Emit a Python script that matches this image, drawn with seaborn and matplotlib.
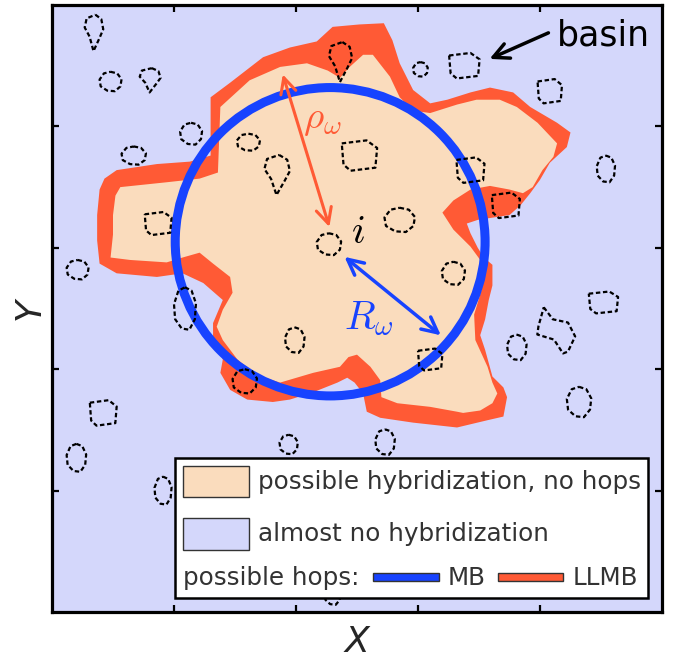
import numpy as np
import matplotlib.pyplot as plt
import seaborn as sns
from matplotlib.patches import Polygon, Circle, Rectangle

# colours
lavender = '#d4d7fb'
peach = '#fadcbd'
red = '#ff5a35'
blue = '#1743ff'
grey = '#333333'

# outer region: LLMB hops possible (data units, axes 0..5)
llmb_x = [1.60, 1.81, 1.95, 2.14, 2.34, 2.42, 2.48, 2.55, 2.58, 2.69, 2.96, 3.32, 3.57, 3.70,
          3.73, 3.70, 3.61, 3.55, 3.51, 3.55, 3.58, 3.61, 3.61, 3.54, 3.49, 3.43, 3.40,
          3.49, 3.75, 3.84, 3.92, 4.00, 4.08, 4.22, 4.25, 4.14, 3.92, 3.78, 3.59, 3.43, 3.24,
          3.10, 2.96, 2.85, 2.79, 2.72, 2.52, 2.30, 2.17, 1.95, 1.73, 1.46, 1.30, 1.30, 1.13,
          0.86, 0.53, 0.43, 0.39, 0.37, 0.37, 0.39, 0.53, 0.86, 1.07, 1.24, 1.40, 1.32, 1.32,
          1.40, 1.38, 1.46]
llmb_y = [1.75, 1.73, 1.75, 1.81, 1.89, 1.93, 1.89, 1.80, 1.65, 1.60, 1.56, 1.52, 1.58, 1.61,
          1.77, 1.85, 1.94, 2.16, 2.28, 2.41, 2.57, 2.69, 2.86, 2.92, 3.00, 3.12, 3.20,
          3.23, 3.27, 3.35, 3.45, 3.56, 3.70, 3.83, 3.95, 4.03, 4.16, 4.28, 4.32, 4.28, 4.22,
          4.19, 4.30, 4.52, 4.71, 4.85, 4.84, 4.82, 4.70, 4.65, 4.57, 4.36, 4.24, 3.76, 3.71,
          3.69, 3.64, 3.57, 3.48, 3.27, 3.06, 2.87, 2.79, 2.76, 2.79, 2.71, 2.57, 2.38, 2.27,
          2.08, 1.97, 1.83]

# inner region: possible hybridization, no hops
hyb_x = [0.50, 0.52, 0.56, 0.94, 1.21, 1.36, 1.38, 1.62, 1.87, 2.09, 2.26, 2.36, 2.44, 2.55,
         2.63, 2.77, 2.85, 2.96, 3.10, 3.32, 3.48, 3.67, 3.81, 3.98, 4.14, 4.11, 4.02, 3.94,
         3.86, 3.75, 3.59, 3.43, 3.29, 3.20, 3.29, 3.43, 3.51, 3.52, 3.46, 3.47, 3.57, 3.61,
         3.65, 3.61, 3.51, 3.37, 3.32, 3.10, 2.83, 2.70, 2.69, 2.61, 2.50, 2.43, 2.36, 2.14,
         1.87, 1.68, 1.52, 1.40, 1.35, 1.40, 1.48, 1.46, 1.32, 1.21, 1.07, 0.94, 0.64, 0.48,
         0.50]
hyb_y = [3.27, 3.43, 3.50, 3.54, 3.57, 3.62, 4.16, 4.38, 4.49, 4.52, 4.46, 4.40, 4.49, 4.59,
         4.59, 4.41, 4.24, 4.13, 4.11, 4.18, 4.22, 4.22, 4.16, 4.03, 3.86, 3.75, 3.64, 3.50,
         3.45, 3.48, 3.51, 3.48, 3.39, 3.29, 3.15, 3.01, 2.90, 2.65, 2.45, 2.24, 2.02, 1.89,
         1.80, 1.72, 1.66, 1.64, 1.65, 1.69, 1.72, 1.77, 1.91, 2.02, 2.12, 2.10, 2.02, 1.97,
         1.89, 1.95, 2.08, 2.24, 2.35, 2.49, 2.63, 2.76, 2.87, 2.96, 2.92, 2.88, 2.90, 2.92,
         3.11]

# MB sphere around site i
mb_center = (2.28, 3.05)
mb_radius = 1.27

# basins: centre, width, height, outline kind
basin_x = [0.34, 0.48, 0.80, 1.14, 0.67, 1.61, 1.84, 2.52, 0.87, 2.27, 2.36, 3.02, 3.38, 4.08,
           4.54, 2.85, 3.43, 3.72, 3.29, 3.10, 3.81, 4.13, 4.52, 4.32, 2.73, 1.09, 1.99, 1.58,
           0.42, 1.94, 0.21, 0.20, 0.91, 2.30]
basin_y = [4.77, 4.37, 4.38, 3.94, 3.76, 3.87, 3.60, 3.76, 3.20, 3.03, 4.53, 4.47, 4.50, 4.29,
           3.65, 3.23, 3.64, 3.35, 2.79, 2.08, 2.18, 2.32, 2.55, 1.73, 1.40, 2.50, 2.24, 1.90,
           1.64, 1.38, 2.82, 1.27, 1.00, 0.14]
basin_w = [0.16, 0.18, 0.18, 0.18, 0.20, 0.19, 0.22, 0.29, 0.22, 0.20, 0.20, 0.12, 0.25, 0.20,
           0.15, 0.25, 0.23, 0.23, 0.19, 0.20, 0.16, 0.31, 0.24, 0.20, 0.16, 0.18, 0.16, 0.20,
           0.22, 0.15, 0.18, 0.16, 0.14, 0.13]
basin_h = [0.30, 0.16, 0.20, 0.18, 0.15, 0.14, 0.33, 0.25, 0.19, 0.18, 0.33, 0.12, 0.21, 0.20,
           0.22, 0.20, 0.21, 0.21, 0.19, 0.18, 0.21, 0.38, 0.18, 0.25, 0.21, 0.35, 0.21, 0.20,
           0.21, 0.16, 0.16, 0.23, 0.23, 0.16]
basin_kind = ['tear', 'round', 'tear', 'round', 'round', 'round', 'tear', 'box', 'box', 'round',
              'tear', 'round', 'box', 'box', 'round', 'round', 'box', 'box', 'round', 'box',
              'round', 'star', 'box', 'round', 'round', 'round', 'round', 'round', 'box', 'round',
              'round', 'round', 'round', 'round']

templates = {
    'round': [(0, 0.5), (0.3, 0.42), (0.5, 0.12), (0.45, -0.25), (0.2, -0.5), (-0.15, -0.47),
              (-0.45, -0.25), (-0.5, 0.1), (-0.3, 0.42)],
    'tear': [(0.1, 0.5), (0.4, 0.38), (0.5, 0.1), (0.3, -0.15), (0.0, -0.5), (-0.2, -0.1),
             (-0.45, 0.15), (-0.35, 0.4)],
    'box': [(-0.5, 0.4), (0.2, 0.5), (0.5, 0.25), (0.45, -0.4), (-0.25, -0.5), (-0.45, -0.3)],
    'star': [(-0.32, 0.5), (-0.08, 0.24), (0.32, 0.17), (0.51, -0.13), (0.32, -0.46),
             (0.19, -0.5), (-0.05, -0.2), (-0.49, -0.09), (-0.46, 0.09)],
}

sns.set_style('ticks')
plt.rcParams['font.family'] = ['DejaVu Sans']
plt.rcParams['mathtext.fontset'] = 'cm'

fig = plt.figure(figsize=(6.78, 6.60), dpi=100)
ax = fig.add_axes([0.0767, 0.0727, 0.8997, 0.9197])
ax.set_xlim(0, 5)
ax.set_ylim(0, 5)
ax.set_facecolor(lavender)

ax.add_patch(Polygon(np.column_stack([llmb_x, llmb_y]), closed=True, fc=red, ec='none', zorder=1))
ax.add_patch(Polygon(np.column_stack([hyb_x, hyb_y]), closed=True, fc=peach, ec='none', zorder=2))
ax.add_patch(Circle(mb_center, mb_radius, fill=False, ec=blue, lw=6.5, zorder=3))

# dashed basin outlines
for bx, by, bw, bh, kind in zip(basin_x, basin_y, basin_w, basin_h, basin_kind):
    pts = templates[kind] + [templates[kind][0]]
    xs = [bx + p[0] * bw for p in pts]
    ys = [by + p[1] * bh for p in pts]
    sns.lineplot(x=xs, y=ys, sort=False, estimator=None, color='black', lw=1.6,
                 linestyle=(0, (2, 1.2)), ax=ax, zorder=4)

# arrows for rho_w and R_w
ax.annotate('', xy=(1.885, 4.45), xytext=(2.28, 3.15),
            arrowprops=dict(arrowstyle='<->', color=red, lw=2.2, mutation_scale=28), zorder=5)
ax.annotate('', xy=(2.38, 2.94), xytext=(3.205, 2.265),
            arrowprops=dict(arrowstyle='<->', color=blue, lw=2.5, mutation_scale=28), zorder=5)
ax.text(2.06, 3.99, r'$\rho_\omega$', color=red, fontsize=28, zorder=6)
ax.text(2.45, 3.04, r'$i$', color='black', fontsize=29, zorder=6)
ax.text(2.39, 2.33, r'$R_\omega$', color=blue, fontsize=29, zorder=6)

# basin label
ax.annotate('', xy=(3.566, 4.547), xytext=(4.09, 4.78),
            arrowprops=dict(arrowstyle='->', color='black', lw=2.5, mutation_scale=28), zorder=5)
ax.text(4.14, 4.67, 'basin', color='black', fontsize=25, zorder=6)

# custom legend
tr = ax.transAxes
ax.add_patch(Rectangle((0.2016, 0.0231), 0.7754, 0.2306, transform=tr, fc='white', ec='black',
                       lw=1.8, zorder=7))
ax.add_patch(Rectangle((0.2148, 0.1895), 0.108, 0.051, transform=tr, fc=peach, ec=grey,
                       lw=1.0, zorder=8))
ax.add_patch(Rectangle((0.2148, 0.1021), 0.108, 0.0527, transform=tr, fc=lavender, ec=grey,
                       lw=1.0, zorder=8))
ax.add_patch(Rectangle((0.5262, 0.0511), 0.108, 0.0132, transform=tr, fc=blue, ec=grey,
                       lw=1.0, zorder=8))
ax.add_patch(Rectangle((0.731, 0.0511), 0.1066, 0.0132, transform=tr, fc=red, ec=grey,
                       lw=1.0, zorder=8))
leg_font = dict(fontsize=17.7, color=grey, va='center', ha='left', transform=tr, zorder=9)
ax.text(0.3377, 0.2142, 'possible hybridization, no hops', **leg_font)
ax.text(0.3377, 0.1285, 'almost no hybridization', **leg_font)
ax.text(0.2148, 0.056, 'possible hops:', **leg_font)
ax.text(0.649, 0.056, 'MB', **leg_font)
ax.text(0.854, 0.056, 'LLMB', **leg_font)

ax.set_xticks([1, 2, 3, 4])
ax.set_yticks([1, 2, 3, 4])
ax.set_xticklabels([])
ax.set_yticklabels([])
ax.tick_params(direction='in', length=5, width=1.6, top=True, right=True, color='black')
for s in ax.spines.values():
    s.set_linewidth(2.3)
    s.set_color('black')
ax.set_xlabel('X', fontsize=26, style='italic', labelpad=6)
ax.set_ylabel('Y', fontsize=26, style='italic', labelpad=0)

fig.savefig('out.png', dpi=100)
